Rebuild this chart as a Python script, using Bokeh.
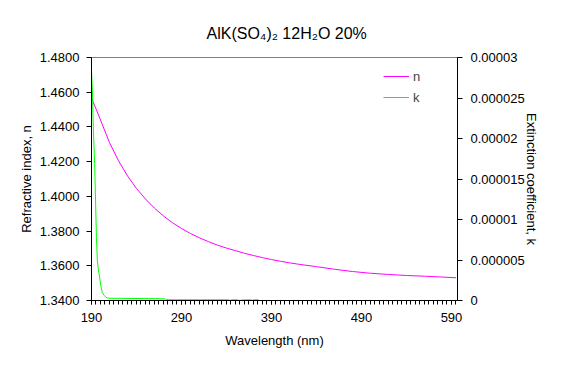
from bokeh.plotting import figure
from bokeh.models import (Range1d, LinearAxis, FixedTicker, NumeralTickFormatter,
                          CustomJSTickFormatter, Legend, LegendItem)
from bokeh.embed import file_html
from bokeh.resources import INLINE

# ---- data ----
title_text = "AlK(SO\u2084)\u2082 12H\u2082O 20%"

wl_n = [190, 200, 210, 220, 230, 240, 250, 260, 270, 280, 290, 300, 310, 320, 330,
        340, 350, 360, 370, 380, 390, 400, 410, 420, 440, 460, 480, 500, 520, 540,
        560, 580, 595]
n_vals = [1.4568, 1.4440, 1.4310, 1.4205, 1.4118, 1.4045, 1.3985, 1.3932, 1.3887,
          1.3848, 1.3815, 1.3786, 1.3761, 1.3739, 1.3719, 1.3702, 1.3687, 1.3672,
          1.3659, 1.3647, 1.3636, 1.3626, 1.3617, 1.3609, 1.3595, 1.3580, 1.3567,
          1.3557, 1.3550, 1.3544, 1.3540, 1.3535, 1.3531]

wl_k = [190, 191, 192, 193.5, 194.5, 195.5, 196.5, 197.5, 199, 200.5, 202, 204, 206,
        208, 272, 273, 342, 344, 346, 352, 354, 361, 367, 369, 370, 375, 376]
k_vals = [2.83e-5, 2.59e-5, 2.14e-5, 1.69e-5, 1.23e-5, 7.8e-6, 4.9e-6, 3.95e-6,
          2.88e-6, 1.73e-6, 9.9e-7, 6.2e-7, 4.1e-7, 2.8e-7, 2.1e-7, 9e-8, 9e-8,
          2e-8, 9e-8, 9e-8, 2e-8, 9e-8, 9e-8, 2e-8, 9e-8, 9e-8, 0.0]

x_ticks = [190, 290, 390, 490, 590]
x_minor = list(range(190, 600, 5))
n_ticks = [1.34, 1.36, 1.38, 1.40, 1.42, 1.44, 1.46, 1.48]
k_ticks = [0, 0.000005, 0.00001, 0.000015, 0.00002, 0.000025, 0.00003]

FONT = "Liberation Sans"

p = figure(width=560, height=364, output_backend="svg", toolbar_location=None,
           x_range=Range1d(190, 596.7), y_range=Range1d(1.34, 1.48),
           min_border_left=91, min_border_right=103, min_border_top=57,
           min_border_bottom=64)
p.outline_line_color = "#808080"
p.background_fill_color = "white"
p.border_fill_color = "white"
p.xgrid.visible = False
p.ygrid.visible = False

p.title.text = title_text
p.title.align = "left"
p.title.offset = 115
p.title.text_font = FONT
p.title.text_font_size = "16px"
p.title.text_font_style = "normal"
p.title.text_color = "black"
p.title.standoff = 32

p.extra_y_ranges = {"k": Range1d(0, 0.00003)}

# x axis
xa = p.xaxis[0]
xa.ticker = FixedTicker(ticks=x_ticks, minor_ticks=x_minor)
xa.axis_label = "Wavelength (nm)"
xa.major_tick_out = 4
xa.major_tick_in = 0
xa.minor_tick_out = 4
xa.minor_tick_in = 0
xa.major_label_standoff = 8
xa.axis_label_standoff = 8

# left axis
ya = p.yaxis[0]
ya.ticker = FixedTicker(ticks=n_ticks)
ya.formatter = NumeralTickFormatter(format="0.0000")
ya.axis_label = "Refractive index, n"
ya.major_tick_out = 5
ya.major_tick_in = 0
ya.major_label_standoff = 7
ya.axis_label_standoff = 3

# right axis
ra = LinearAxis(y_range_name="k",
                ticker=FixedTicker(ticks=k_ticks),
                formatter=CustomJSTickFormatter(code="return tick === 0 ? '0' : String(tick);"),
                axis_label="Extinction coefficient, k")
ra.major_tick_out = 5
ra.major_tick_in = 0
ra.major_label_standoff = 8
ra.axis_label_standoff = -4
p.add_layout(ra, "right")

for ax in [xa, ya, ra]:
    ax.axis_line_color = "black"
    ax.major_tick_line_color = "black"
    ax.minor_tick_line_color = "black" if ax is xa else None
    ax.major_label_text_font = FONT
    ax.major_label_text_font_size = "13px"
    ax.major_label_text_color = "black"
    ax.axis_label_text_font = FONT
    ax.axis_label_text_font_size = "13px"
    ax.axis_label_text_font_style = "normal"
    ax.axis_label_text_color = "black"

r_n = p.line(wl_n, n_vals, line_color="#FF00FF", line_width=1)
r_k = p.line(wl_k, k_vals, line_color="#00FF00", line_width=1, y_range_name="k")

legend = Legend(items=[LegendItem(label="n", renderers=[r_n]),
                       LegendItem(label="k", renderers=[r_k])],
                location=(292, 194), orientation="vertical",
                glyph_width=26, glyph_height=18, label_height=18, spacing=3,
                padding=0, margin=0, label_standoff=4,
                border_line_color=None, background_fill_alpha=0,
                label_text_font=FONT, label_text_font_size="13px")
p.add_layout(legend)

open("out.html", "w").write(file_html(p, INLINE))
